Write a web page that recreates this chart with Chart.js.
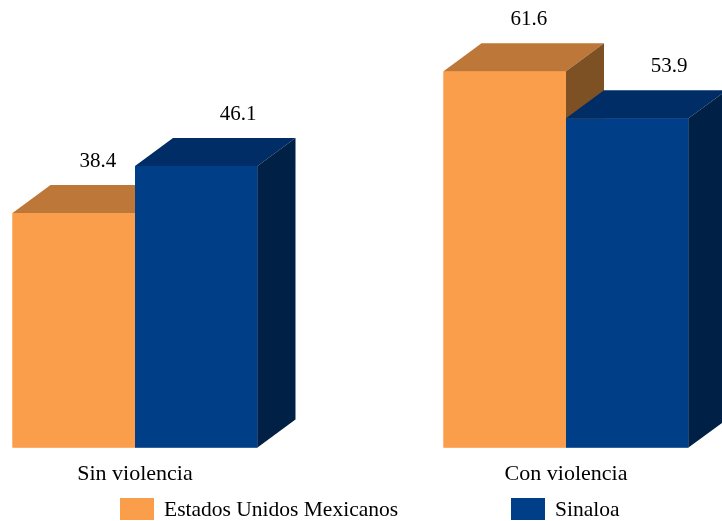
<!DOCTYPE html>
<html>
<head>
<meta charset="utf-8">
<script src="https://cdn.jsdelivr.net/npm/chart.js@4.4.0/dist/chart.umd.min.js"></script>
<style>
   html, body { margin: 0; padding: 0; background: #fff; }
   #wrap { width: 722px; height: 521px; position: relative; }
</style>
</head>
<body>
<div id="wrap"><canvas id="barChart"></canvas></div>
<script>
// Data
const categories = ["Sin violencia", "Con violencia"];
const seriesNames = ["Estados Unidos Mexicanos", "Sinaloa"];
const nacional = [38.4, 61.6];
const sinaloa = [46.1, 53.9];

// colors: front, top, side
const faceColors = [
   { front: "#FB9E4B", top: "#BD7839", side: "#7E5125" },
   { front: "#003F87", top: "#012D66", side: "#002046" },
];

const FONT = "'Liberation Serif', 'Times New Roman', serif";
const DEPTH_X = 38;
const DEPTH_Y = 28;

// Draws the 3d faces and the value labels for every bar
const bars3d = {
   id: "bars3d",
   afterDatasetsDraw(chart) {
      const ctx = chart.ctx;
      ctx.save();
      chart.data.datasets.forEach((ds, di) => {
         const meta = chart.getDatasetMeta(di);
         const c = faceColors[di];
         meta.data.forEach((bar, i) => {
            const p = bar.getProps(["x", "y", "base", "width"], true);
            const left = p.x - p.width / 2;
            const right = p.x + p.width / 2;

            // front
            ctx.fillStyle = c.front;
            ctx.fillRect(left, p.y, p.width, p.base - p.y);

            // top
            ctx.fillStyle = c.top;
            ctx.beginPath();
            ctx.moveTo(left, p.y);
            ctx.lineTo(left + DEPTH_X, p.y - DEPTH_Y);
            ctx.lineTo(right + DEPTH_X, p.y - DEPTH_Y);
            ctx.lineTo(right, p.y);
            ctx.closePath();
            ctx.fill();

            // side
            ctx.fillStyle = c.side;
            ctx.beginPath();
            ctx.moveTo(right, p.y);
            ctx.lineTo(right + DEPTH_X, p.y - DEPTH_Y);
            ctx.lineTo(right + DEPTH_X, p.base - DEPTH_Y);
            ctx.lineTo(right, p.base);
            ctx.closePath();
            ctx.fill();

            // value label
            ctx.fillStyle = "#000";
            ctx.font = "21px " + FONT;
            ctx.textAlign = "center";
            ctx.textBaseline = "middle";
            const shift = di === 0 ? 24 : 42;
            ctx.fillText(ds.data[i].toFixed(1), p.x + shift, p.y - 52);
         });
      });
      ctx.restore();
   },
   afterDraw(chart) {
      // legend built from the library's own legend items
      const ctx = chart.ctx;
      const items = Chart.defaults.plugins.legend.labels.generateLabels(chart);
      const boxX = [120, 511];
      ctx.save();
      ctx.font = "21.5px " + FONT;
      ctx.textAlign = "left";
      ctx.textBaseline = "middle";
      items.forEach((item, k) => {
         ctx.fillStyle = item.fillStyle;
         ctx.fillRect(boxX[k], 498, 34, 22);
         ctx.fillStyle = "#000";
         ctx.fillText(item.text, boxX[k] + 44, 510);
      });
      ctx.restore();
   },
};

const ctx = document.getElementById("barChart").getContext("2d");
new Chart(ctx, {
   type: "bar",
   data: {
      labels: categories,
      datasets: [
         {
            label: seriesNames[0],
            data: nacional,
            backgroundColor: faceColors[0].front,
            clip: false,
         },
         {
            label: seriesNames[1],
            data: sinaloa,
            backgroundColor: faceColors[1].front,
            clip: false,
         },
      ],
   },
   options: {
      responsive: true,
      maintainAspectRatio: false,
      animation: false,
      categoryPercentage: 0.5684,
      barPercentage: 1,
      layout: {
         padding: { left: 135, right: 156, top: 20, bottom: 29 },
      },
      plugins: {
         legend: { display: false },
         tooltip: { enabled: false },
      },
      scales: {
         x: {
            offset: false,
            grid: { display: false },
            border: { display: false },
            ticks: {
               color: "#000",
               padding: 5,
               font: { family: FONT, size: 22 },
            },
         },
         y: {
            display: false,
            min: 0,
            max: 70,
         },
      },
   },
   plugins: [bars3d],
});
</script>
</body>
</html>
